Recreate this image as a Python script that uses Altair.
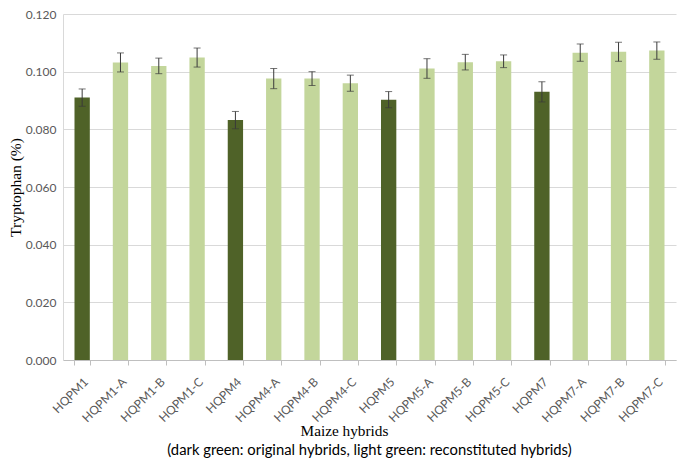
import altair as alt
import pandas as pd

hybrids = ["HQPM1", "HQPM1-A", "HQPM1-B", "HQPM1-C",
           "HQPM4", "HQPM4-A", "HQPM4-B", "HQPM4-C",
           "HQPM5", "HQPM5-A", "HQPM5-B", "HQPM5-C",
           "HQPM7", "HQPM7-A", "HQPM7-B", "HQPM7-C"]
tryptophan = [0.0910, 0.1032, 0.1020, 0.1049,
              0.0832, 0.0976, 0.0976, 0.0960,
              0.0903, 0.1011, 0.1033, 0.1036,
              0.0930, 0.1066, 0.1069, 0.1073]
error = [0.0030, 0.0033, 0.0027, 0.0033,
         0.0030, 0.0035, 0.0024, 0.0028,
         0.0028, 0.0034, 0.0027, 0.0022,
         0.0035, 0.0030, 0.0033, 0.0030]
group = ["original", "reconstituted", "reconstituted", "reconstituted"] * 4

df = pd.DataFrame({"hybrid": hybrids, "value": tryptophan, "err": error, "group": group})
df["lo"] = df["value"] - df["err"]
df["hi"] = df["value"] + df["err"]

x = alt.X("hybrid:N", sort=hybrids,
          scale=alt.Scale(paddingInner=0.6, paddingOuter=0.3),
          axis=alt.Axis(title="Maize hybrids", labelAngle=-45, labelAlign="right",
                        labelBaseline="top", labelFont="Lato", labelFontSize=12,
                        labelColor="#595959", labelPadding=11,
                        tickBand="extent", tickSize=5, tickColor="#BFBFBF",
                        domainColor="#BFBFBF",
                        titleFont="Liberation Serif", titleFontSize=15.3,
                        titleFontWeight="normal", titleColor="#000000",
                        titleX=281, titleY=75, titleBaseline="alphabetic",
                        titleAnchor="start", titleAlign="center"))

bars = alt.Chart(df).mark_bar().encode(
    x=x,
    y=alt.Y("value:Q",
            scale=alt.Scale(domain=[0, 0.12], nice=False),
            axis=alt.Axis(title="Tryptophan (%)", values=[0, 0.02, 0.04, 0.06, 0.08, 0.10, 0.12],
                          format=".3f", labelFont="Lato", labelFontSize=12,
                          labelColor="#595959", ticks=False, labelPadding=7,
                          domainColor="#D9D9D9", gridColor="#D9D9D9",
                          titleFont="Liberation Serif", titleFontSize=15.5,
                          titleFontWeight="normal", titleColor="#000000",
                          titlePadding=2)),
    color=alt.Color("group:N",
                    scale=alt.Scale(domain=["original", "reconstituted"],
                                    range=["#4F6228", "#C3D69B"]),
                    legend=None),
)

rules = alt.Chart(df).mark_rule(color="#3A3A3A", strokeWidth=1).encode(
    x=alt.X("hybrid:N", sort=hybrids), y="lo:Q", y2="hi:Q")
cap_lo = alt.Chart(df).mark_tick(color="#3A3A3A", size=7, thickness=1, orient="horizontal").encode(
    x=alt.X("hybrid:N", sort=hybrids), y="lo:Q")
cap_hi = alt.Chart(df).mark_tick(color="#3A3A3A", size=7, thickness=1, orient="horizontal").encode(
    x=alt.X("hybrid:N", sort=hybrids), y="hi:Q")

chart = alt.layer(bars, rules, cap_lo, cap_hi).properties(
    width=613, height=346,
    autosize="none",
    padding={"left": 55, "top": 6, "right": 1, "bottom": 98},
    title=alt.TitleParams("(dark green: original hybrids, light green: reconstituted hybrids)",
                          orient="bottom", anchor="middle", frame="group",
                          font="Lato", fontSize=14.8, fontWeight="normal",
                          color="#000000", offset=5),
).configure_view(stroke=None)

chart.save("out.html", embed_options={"renderer": "svg", "actions": False})
